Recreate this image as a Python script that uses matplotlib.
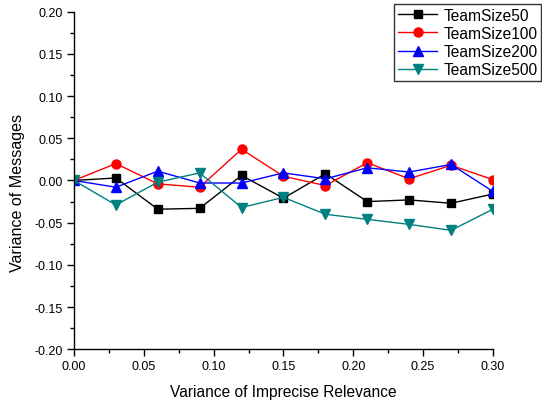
import matplotlib
matplotlib.use("Agg")
import matplotlib.pyplot as plt
from matplotlib.ticker import MultipleLocator

plt.rcParams['font.family'] = ['Liberation Sans', 'DejaVu Sans']

x_values = [0.00, 0.03, 0.06, 0.09, 0.12, 0.15, 0.18, 0.21, 0.24, 0.27, 0.30]
team50 = [0.000, 0.003, -0.034, -0.033, 0.006, -0.021, 0.008, -0.025, -0.023, -0.027, -0.016]
team100 = [0.000, 0.020, -0.004, -0.008, 0.037, 0.005, -0.006, 0.021, 0.002, 0.018, 0.001]
team200 = [0.000, -0.008, 0.011, -0.003, -0.003, 0.009, 0.002, 0.015, 0.010, 0.019, -0.013]
team500 = [0.000, -0.029, -0.002, 0.009, -0.032, -0.020, -0.040, -0.046, -0.052, -0.059, -0.034]

series = [
    ("TeamSize50", team50, "black", "s", 6.0),
    ("TeamSize100", team100, "red", "o", 6.5),
    ("TeamSize200", team200, "blue", "^", 7.0),
    ("TeamSize500", team500, "#008080", "v", 7.0),
]

fig = plt.figure(figsize=(5.42, 4.06), dpi=100)
ax = fig.add_axes([0.1365, 0.137, 0.773, 0.832])

for label, vals, color, marker, ms in series:
    ax.plot(x_values, vals, color=color, marker=marker, markersize=ms,
            linewidth=1.0, label=label)

ax.set_xlim(0.0, 0.30)
ax.set_ylim(-0.20, 0.20)
ax.xaxis.set_major_locator(MultipleLocator(0.05))
ax.xaxis.set_minor_locator(MultipleLocator(0.025))
ax.yaxis.set_major_locator(MultipleLocator(0.05))
ax.yaxis.set_minor_locator(MultipleLocator(0.025))
ax.xaxis.set_major_formatter(plt.FormatStrFormatter('%.2f'))
ax.yaxis.set_major_formatter(plt.FormatStrFormatter('%.2f'))

for s in ("top", "right"):
    ax.spines[s].set_visible(False)
for s in ("left", "bottom"):
    ax.spines[s].set_linewidth(1.0)
ax.tick_params(which="major", direction="out", length=5, width=1,
               labelsize=9, pad=3)
ax.tick_params(which="minor", direction="out", length=3, width=1)

ax.set_xlabel("Variance of Imprecise Relevance", fontsize=11.2, labelpad=8)
ax.set_ylabel("Variance of Messages", fontsize=11.6)
ax.yaxis.set_label_coords(-0.117, 0.466)

leg = fig.legend(loc="upper right", bbox_to_anchor=(0.999, 0.988), fontsize=11.2,
                 frameon=True, fancybox=False, edgecolor="black",
                 handlelength=2.5, borderpad=0.25, labelspacing=0.2,
                 handletextpad=0.4, borderaxespad=0.0)
leg.get_frame().set_linewidth(1.0)

fig.savefig("out.png", dpi=100)
